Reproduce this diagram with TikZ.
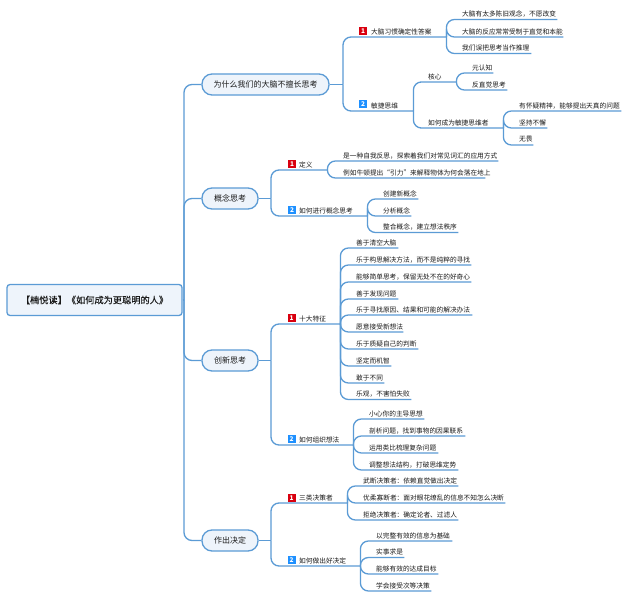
\documentclass[tikz,border=0pt]{standalone}
\usepackage{fontspec}
\setmainfont{Noto Sans CJK SC}
\newfontfamily\heavierfont[FakeBold=0.05]{Noto Sans CJK SC}
\definecolor{linkc}{HTML}{5B9BD5}
\definecolor{fillc}{HTML}{EEF4FB}
\definecolor{txtc}{HTML}{1A1A1A}
\definecolor{badger}{HTML}{D9000F}
\definecolor{badgeb}{HTML}{1E90FF}
\tikzset{
  link/.style={draw=linkc,line width=1.3pt,rounded corners=8pt},
  rootbox/.style={draw=linkc,line width=1.3pt,fill=fillc,rounded corners=3pt,text=txtc,font=\heavierfont\fontsize{9.2}{11}\selectfont,minimum width=175pt,minimum height=31pt,inner sep=0pt},
  mainbox/.style={draw=linkc,line width=1.3pt,fill=fillc,rounded corners=10pt,text=txtc,font=\fontsize{8}{10}\selectfont,minimum height=21pt,inner sep=0pt},
  leafbox/.style={anchor=south west,inner xsep=0pt,inner ysep=0pt,minimum height=10.5pt,text=txtc,font=\fontsize{6.7}{8}\selectfont},
  badgebox/.style={fill=#1,text=white,font=\fontsize{6.5}{7}\selectfont\bfseries,minimum size=8pt,inner sep=0pt}
}
\newcommand{\leaf}[6]{%
  \pgfmathsetlengthmacro{\leafw}{(#5-#3)*1pt}%
  \node[leafbox] (#2) at (#3,#4) {\makebox[\leafw][l]{#6}};
  \draw[link] (#1) |- (#2.south west) -- (#2.south east);
}
\begin{document}
\begin{tikzpicture}[x=1pt,y=-1pt]
\useasboundingbox (0,0) rectangle (629,599);
\fill[white] (0,0) rectangle (629,599);
% root and main nodes
\node[rootbox] (root) at (94.5,300) {【楠悦读】《如何成为更聪明的人》};
\node[mainbox,minimum width=127pt] (m1) at (265.5,84.5) {为什么我们的大脑不擅长思考};
\node[mainbox,minimum width=56pt] (m2) at (230,198.5) {概念思考};
\node[mainbox,minimum width=56pt] (m3) at (230,360.5) {创新思考};
\node[mainbox,minimum width=56pt] (m4) at (230,540.5) {作出决定};
\coordinate (hub) at (184,300);
\draw[link] (root.east) -- (hub);
\foreach \m in {m1,m2,m3,m4} {\draw[link] (hub) |- (\m.west);}
\coordinate (h1) at (343,84.5);
\coordinate (h2) at (271,198.5);
\coordinate (h3) at (271,360.5);
\coordinate (h4) at (271,540.5);
\draw[link] (m1.east) -- (h1);
\draw[link] (m2.east) -- (h2);
\draw[link] (m3.east) -- (h3);
\draw[link] (m4.east) -- (h4);
% branch 1
\leaf{h1}{a1}{371}{37}{446}{大脑习惯确定性答案}
\leaf{h1}{a2}{371}{111}{413}{敏捷思维}
\node[badgebox=badger] (ba1) at (363,31) {1};
\node[badgebox=badgeb] (ba2) at (363,104.5) {2};
\leaf{a1.south east}{a11}{462}{19.5}{557}{大脑有太多陈旧观念，不愿改变}
\leaf{a1.south east}{a12}{462}{37}{563}{大脑的反应常常受制于直觉和本能}
\leaf{a1.south east}{a13}{462}{53.5}{531}{我们误把思考当作推理}
\leaf{a2.south east}{a21}{428}{82}{456}{核心}
\leaf{a2.south east}{a22}{428}{128}{503}{如何成为敏捷思维者}
\leaf{a21.south east}{a211}{472}{73}{493}{元认知}
\leaf{a21.south east}{a212}{472}{90}{507}{反直觉思考}
\leaf{a22.south east}{a221}{519}{111}{621}{有怀疑精神，能够提出天真的问题}
\leaf{a22.south east}{a222}{519}{128}{547}{坚持不懈}
\leaf{a22.south east}{a223}{519}{145}{533}{无畏}
% branch 2
\leaf{h2}{b1}{299}{170}{327}{定义}
\leaf{h2}{b2}{299}{216}{367}{如何进行概念思考}
\node[badgebox=badger] (bb1) at (292,164) {1};
\node[badgebox=badgeb] (bb2) at (292,210) {2};
\leaf{b1.south east}{b11}{343}{161}{498}{是一种自我反思，探索着我们对常见词汇的应用方式}
\leaf{b1.south east}{b12}{343}{178}{485}{例如牛顿提出“引力”来解释物体为何会落在地上}
\leaf{b2.south east}{b21}{383}{199}{418}{创建新概念}
\leaf{b2.south east}{b22}{383}{216}{411}{分析概念}
\leaf{b2.south east}{b23}{383}{232.5}{458}{整合概念，建立想法秩序}
% branch 3
\leaf{h3}{c1}{299}{324}{340}{十大特征}
\leaf{h3}{c2}{299}{445}{353}{如何组织想法}
\node[badgebox=badger] (bc1) at (291.5,318) {1};
\node[badgebox=badgeb] (bc2) at (291.5,439) {2};
\leaf{c1.south east}{c11}{356}{248}{398}{善于清空大脑}
\leaf{c1.south east}{c12}{356}{265}{471}{乐于构思解决方法，而不是纯粹的寻找}
\leaf{c1.south east}{c13}{356}{282}{471}{能够简单思考，保留无处不在的好奇心}
\leaf{c1.south east}{c14}{356}{299}{398}{善于发现问题}
\leaf{c1.south east}{c15}{356}{315}{472}{乐于寻找原因、结果和可能的解决办法}
\leaf{c1.south east}{c16}{356}{332}{403}{愿意接受新想法}
\leaf{c1.south east}{c17}{356}{349}{418}{乐于质疑自己的判断}
\leaf{c1.south east}{c18}{356}{366}{391}{坚定而机智}
\leaf{c1.south east}{c19}{356}{383}{384}{敢于不同}
\leaf{c1.south east}{c110}{356}{399.5}{411}{乐观，不害怕失败}
\leaf{c2.south east}{c21}{369}{419}{424}{小心你的主导思想}
\leaf{c2.south east}{c22}{369}{436}{465}{剖析问题，找到事物的因果联系}
\leaf{c2.south east}{c23}{369}{453}{438}{运用类比梳理复杂问题}
\leaf{c2.south east}{c24}{369}{470}{458}{调整想法结构，打破思维定势}
% branch 4
\leaf{h4}{d1}{299}{503}{347}{三类决策者}
\leaf{h4}{d2}{299}{566}{360}{如何做出好决定}
\node[badgebox=badger] (bd1) at (291.5,498) {1};
\node[badgebox=badgeb] (bd2) at (291.5,560) {2};
\leaf{d1.south east}{d11}{363}{486}{458}{武断决策者：依赖直觉做出决定}
\leaf{d1.south east}{d12}{363}{503}{505}{优柔寡断者：面对眼花缭乱的信息不知怎么决断}
\leaf{d1.south east}{d13}{363}{520}{458}{拒绝决策者：确定论者、过滤人}
\leaf{d2.south east}{d21}{376}{541}{452}{以完整有效的信息为基础}
\leaf{d2.south east}{d22}{376}{557.5}{404}{实事求是}
\leaf{d2.south east}{d23}{376}{574}{438}{能够有效的达成目标}
\leaf{d2.south east}{d24}{376}{591}{431}{学会接受次等决策}
\end{tikzpicture}
\end{document}
